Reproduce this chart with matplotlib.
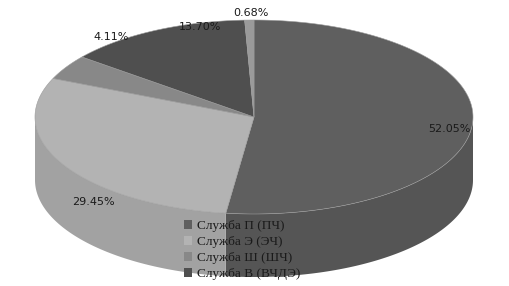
import numpy as np
import matplotlib
matplotlib.use("Agg")
import matplotlib.pyplot as plt
from matplotlib.patches import Patch

# shares, clockwise from 12 o'clock
labels = ['Служба П (ПЧ)', 'Служба Э (ЭЧ)', 'Служба Ш (ШЧ)', 'Служба В (ВЧДЭ)', 'Прочие']
values = [52.05, 29.45, 4.11, 13.70, 0.68]
pct_text = ['52.05%', '29.45%', '4.11%', '13.70%', '0.68%']

top_colors = ['#5f5f5f', '#b3b3b3', '#888888', '#4f4f4f', '#9a9a9a']
side_colors = ['#555555', '#a2a2a2', '#7a7a7a', '#464646', '#8a8a8a']

# pie geometry in pixel units (y grows downward)
cx, cy = 254, 117
rx, ry = 219, 97
depth = 63

# label positions (pixels)
label_pos = [(449, 129), (93, 202), (111, 37), (200, 27), (251, 13)]


def rim(a0, a1, n=200):
    t = np.radians(np.linspace(a0, a1, n))
    return cx + rx * np.sin(t), cy - ry * np.cos(t)


fig = plt.figure(figsize=(5.1, 2.86), dpi=100)
ax = fig.add_axes([0, 0, 1, 1])
ax.set_xlim(0, 510)
ax.set_ylim(286, 0)
ax.axis('off')

total = sum(values)
bounds = np.concatenate([[0], np.cumsum(values) / total * 360])

# side walls (visible between 90 and 270 degrees)
for i in range(len(values)):
    a0, a1 = max(bounds[i], 90), min(bounds[i + 1], 270)
    if a1 <= a0:
        continue
    x, y = rim(a0, a1)
    xs = np.concatenate([x, x[::-1]])
    ys = np.concatenate([y, y[::-1] + depth])
    ax.fill(xs, ys, color=side_colors[i], lw=0)

# top faces
for i in range(len(values)):
    x, y = rim(bounds[i], bounds[i + 1])
    xs = np.concatenate([[cx], x, [cx]])
    ys = np.concatenate([[cy], y, [cy]])
    ax.fill(xs, ys, facecolor=top_colors[i], edgecolor='#9c9c9c', lw=0.4)

for (lx, ly), t in zip(label_pos, pct_text):
    ax.text(lx, ly, t, ha='center', va='center', fontsize=8,
            family='DejaVu Sans', color='#1a1a1a')

handles = [Patch(facecolor=top_colors[i], edgecolor='none', label=labels[i]) for i in range(4)]
fig.legend(handles=handles, loc='upper left', bbox_to_anchor=(175 / 510, 1 - 211 / 286),
           frameon=False, handlelength=0.6, handleheight=0.6, handletextpad=0.35,
           labelspacing=0.3, prop={'family': 'Liberation Serif', 'size': 9.5},
           labelcolor='#1a1a1a', borderpad=0.2)

fig.savefig('out.png', dpi=100, facecolor='white')
